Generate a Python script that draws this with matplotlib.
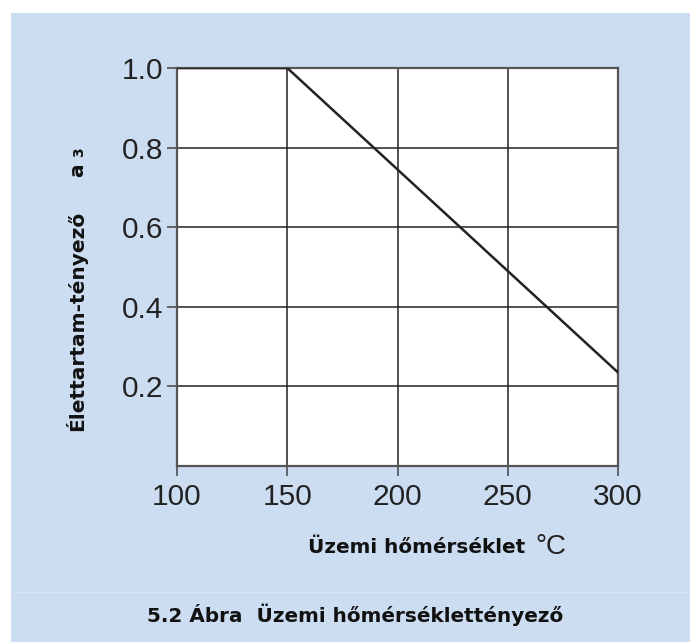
import matplotlib
matplotlib.use("Agg")
import matplotlib.pyplot as plt
from matplotlib.patches import Rectangle
from matplotlib.lines import Line2D

# data
temp = [100, 150, 300]          # operating temperature, °C
factor = [1.0, 1.0, 0.235]      # life factor a3
xticks = [100, 150, 200, 250, 300]
yticks = [0.2, 0.4, 0.6, 0.8, 1.0]

plt.rcParams['font.family'] = ['Liberation Sans', 'DejaVu Sans']

W, H = 690, 642
fig = plt.figure(figsize=(W / 100, H / 100), dpi=100, facecolor='white')

# light blue panel, white strip top/left
fig.patches.append(Rectangle((11 / W, 0), 1 - 11 / W, 1 - 13 / H, transform=fig.transFigure,
                             facecolor='#CCDCF1', edgecolor='none', zorder=-10))
fig.lines.append(Line2D([11 / W, 1], [1 - 592 / H] * 2, transform=fig.transFigure,
                        color='#D6E3F4', lw=1, zorder=-5))

ax = fig.add_axes([177 / W, 1 - 466 / H, (618 - 177) / W, (466 - 68) / H])
ax.set_facecolor('white')
ax.plot(temp, factor, color='#222222', lw=1.8, zorder=3)

ax.set_xlim(100, 300)
ax.set_ylim(0, 1.0)
ax.set_xticks(xticks)
ax.set_yticks(yticks)
ax.set_xticklabels([str(t) for t in xticks])
ax.set_yticklabels([f"{t:.1f}" for t in yticks])
ax.grid(True, color='#222222', lw=1.1)
ax.tick_params(direction='out', length=7, width=1.1, color='#444444',
               labelsize=21.5, labelcolor='#222222')
ax.tick_params(axis='x', pad=5)
ax.tick_params(axis='y', pad=3)
for s in ax.spines.values():
    s.set_color('#555555')
    s.set_linewidth(1.6)

lab = dict(family='DejaVu Sans', fontweight='bold', color='#111111')

fig.text(83 / W, 1 - 321 / H, "Élettartam-tényező", rotation=90, rotation_mode='anchor',
         fontsize=14.5, ha='center', va='baseline', **lab)
fig.text(83 / W, 1 - 170 / H, "a", rotation=90, rotation_mode='anchor',
         fontsize=14.5, ha='center', va='baseline', **lab)
fig.text(83 / W, 1 - 152 / H, "3", rotation=90, rotation_mode='anchor',
         fontsize=10, ha='center', va='baseline', **lab)

fig.text(417 / W, 1 - 553 / H, "Üzemi hőmérséklet", fontsize=14.4,
         ha='center', va='baseline', **lab)
fig.text(535 / W, 1 - 554 / H, "°C", fontsize=20, ha='left', va='baseline', color='#222222')

fig.text(147 / W, 1 - 622 / H, "5.2 Ábra  Üzemi hőmérséklettényező", fontsize=14.4,
         ha='left', va='baseline', **lab)

fig.savefig("out.png", dpi=100, facecolor=fig.get_facecolor())
